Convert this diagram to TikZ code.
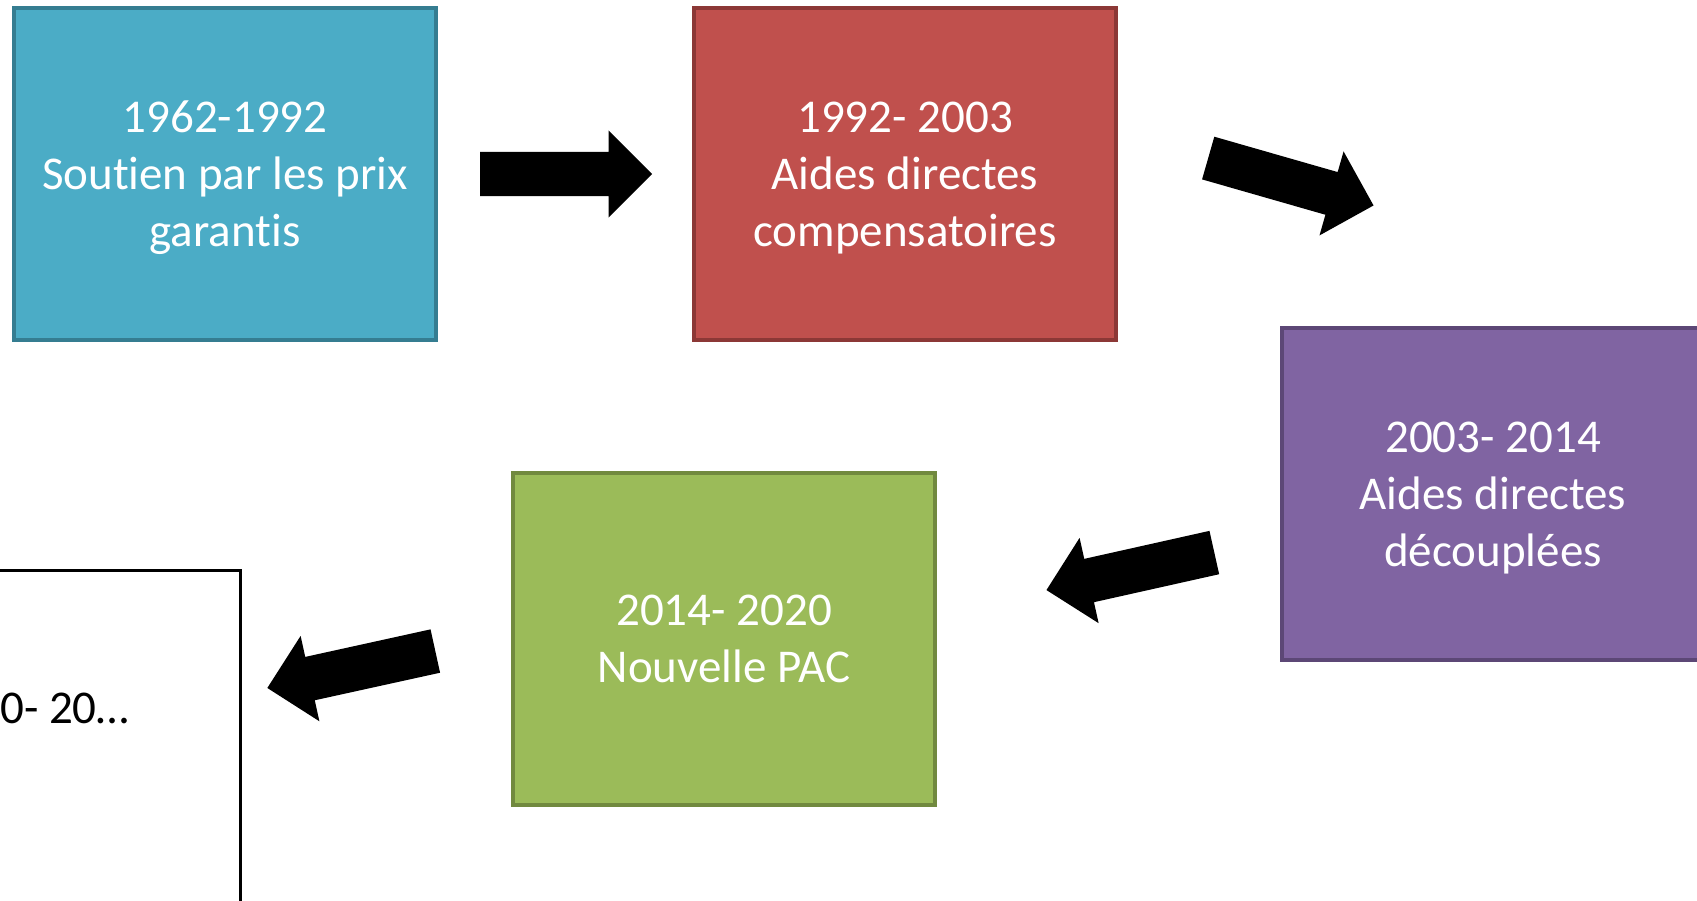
\documentclass[tikz,border=0pt]{standalone}
\usepackage{fontspec}
\setmainfont{Carlito}[Ligatures=NoCommon]
\usetikzlibrary{shapes.arrows}

\definecolor{pacblue}{HTML}{4BACC6}
\definecolor{pacbluedark}{HTML}{357D91}
\definecolor{pacred}{HTML}{C0504D}
\definecolor{pacreddark}{HTML}{8C3836}
\definecolor{pacpurple}{HTML}{8064A2}
\definecolor{pacpurpledark}{HTML}{5C4776}
\definecolor{pacgreen}{HTML}{9BBB59}
\definecolor{pacgreendark}{HTML}{71893F}

\begin{document}
\begin{tikzpicture}[
				x=1pt, y=-1pt,
				period/.style={rectangle, line width=4pt, minimum width=422pt, minimum height=332pt, text=white, align=center, text depth=0pt, font=\fontsize{47}{57}\selectfont},
				blockarrow/.style={single arrow, fill=black, anchor=tail, inner xsep=0pt, inner ysep=22pt, minimum width=0pt, minimum height=172pt, single arrow head extend=21.5pt, single arrow tip angle=90}
				]
				\useasboundingbox (0,0) rectangle (1697,901);
				% the periods
				\node[period, fill=pacblue, draw=pacbluedark] (prix) at (225,174) {1962-1992\\Soutien par les prix\\garantis};
				\node[period, fill=pacred, draw=pacreddark] (compens) at (905,174) {1992- 2003\\Aides directes\\compensatoires};
				\node[period, fill=pacpurple, draw=pacpurpledark] (decoupl) at (1493,494) {2003- 2014\\Aides directes\\découplées};
				\node[period, fill=pacgreen, draw=pacgreendark] (nouvpac) at (724,639) {2014- 2020\\Nouvelle PAC};
				\node[period, fill=white, draw=black, line width=3pt] (suite) at (29,736) {};
				\node[font=\fontsize{47}{57}\selectfont, anchor=base] (suitetxt) at (29,723) {2020- 20…};
				% the arrows between them, placed by their tails
				\node[blockarrow] (fleche1) at (480,174) {};
				\node[blockarrow, rotate=-16] (fleche2) at (1208,158) {};
				\node[blockarrow, rotate=192.6] (fleche3) at (1214.5,552.5) {};
				\node[blockarrow, rotate=192.4] (fleche4) at (435.5,651) {};
			\end{tikzpicture}
\end{document}
